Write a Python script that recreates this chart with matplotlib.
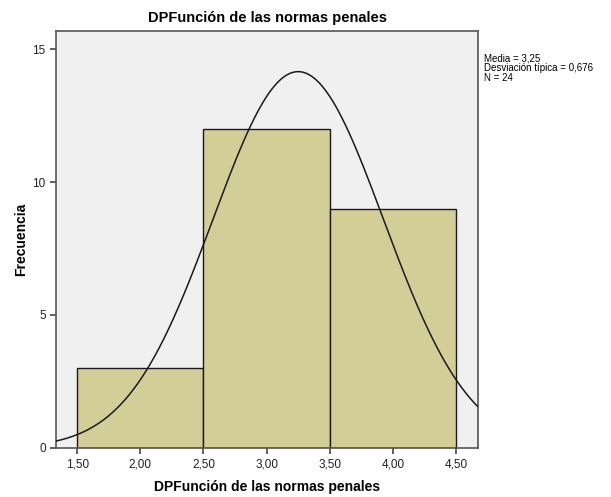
import numpy as np
import matplotlib
matplotlib.use("Agg")
import matplotlib.pyplot as plt

plt.rcParams['font.family'] = ['Liberation Sans', 'DejaVu Sans']

# histograma de SPSS
bin_edges = [1.5, 2.5, 3.5, 4.5]
counts = [3, 12, 9]
media = 3.25
desv = 0.676
n = 24
xticks = [1.5, 2.0, 2.5, 3.0, 3.5, 4.0, 4.5]
yticks = [0, 5, 10, 15]

fig = plt.figure(figsize=(6.11, 4.97), dpi=100)
ax = fig.add_axes([0.092, 0.099, 0.690, 0.839])
ax.set_facecolor('#f0f0f0')

ax.bar(bin_edges[:-1], counts, width=np.diff(bin_edges), align='edge',
       color='#d3ce97', edgecolor='#1a1a1a', linewidth=1.0, zorder=2)

# curva normal
xs = np.linspace(1.33, 4.67, 300)
ancho = bin_edges[1] - bin_edges[0]
ys = n * ancho / (desv * np.sqrt(2 * np.pi)) * np.exp(-0.5 * ((xs - media) / desv) ** 2)
ax.plot(xs, ys, color='#1a1a1a', linewidth=1.1, zorder=3)

ax.set_xlim(1.334, 4.672)
ax.set_ylim(0, 15.7)
ax.set_xticks(xticks)
ax.set_xticklabels([f"{v:.2f}".replace('.', ',') for v in xticks])
ax.set_yticks(yticks)
ax.tick_params(labelsize=8.5, color='#444444', length=4, width=1.2, colors='#222222')
for s in ax.spines.values():
    s.set_color('#555555')
    s.set_linewidth(1.2)

ax.set_title('DPFunción de las normas penales', fontsize=10.5, fontweight='bold', pad=6)
ax.set_xlabel('DPFunción de las normas penales', fontsize=10, fontweight='bold', labelpad=7)
ax.set_ylabel('Frecuencia', fontsize=10, fontweight='bold', labelpad=3)

fig.text(0.792, 0.892,
         f"Media = {media:.2f}".replace('.', ',') + "\n"
         + f"Desviación típica = {desv:.3f}".replace('.', ',') + "\n"
         + f"N = {n}",
         fontsize=7, va='top', ha='left', linespacing=0.95)

fig.savefig('out.png', dpi=100)
